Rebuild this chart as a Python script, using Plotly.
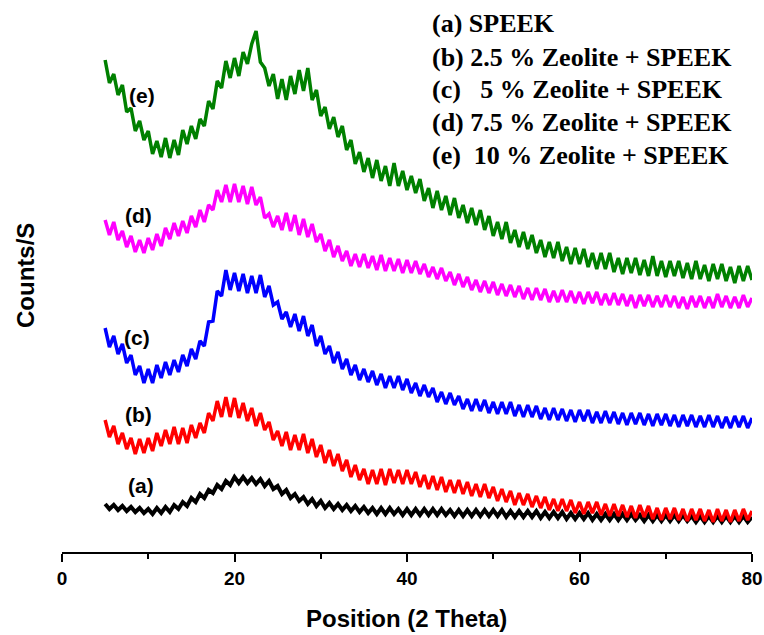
import plotly.graph_objects as go

# 2-theta scan positions (degrees), 0.5 degree steps from 5 to 80
two_theta = [5 + 0.5 * i for i in range(151)]

# Counts/S (arbitrary offset units, stacked patterns)
counts_a = [48, 43, 47, 42, 46, 41, 45, 40, 44, 39, 43, 38, 44, 39, 45, 40, 47, 43, 50, 46,
            54, 50, 58, 54, 62, 59, 67, 63, 71, 67, 75, 69, 75, 69, 74, 68, 73, 66, 71, 63,
            66, 58, 62, 54, 58, 51, 55, 48, 53, 46, 51, 44, 49, 43, 48, 42, 47, 41, 46, 40,
            45, 39, 44, 38, 44, 38, 44, 38, 43, 37, 43, 37, 43, 37, 43, 37, 43, 37, 43, 37,
            42, 36, 42, 36, 42, 36, 42, 36, 42, 36, 42, 36, 42, 35, 41, 35, 41, 35, 41, 35,
            41, 34, 40, 34, 40, 34, 40, 33, 39, 33, 39, 33, 39, 32, 38, 32, 38, 32, 38, 32,
            38, 32, 38, 32, 37, 31, 37, 31, 37, 31, 37, 31, 37, 31, 37, 31, 36, 30, 36, 30,
            36, 30, 36, 30, 36, 30, 36, 30, 36, 30, 35]

counts_b = [132, 115, 126, 108, 119, 103, 114, 98, 113, 99, 114, 101, 119, 106, 122, 108, 125, 108, 124, 109,
            127, 114, 129, 119, 139, 131, 151, 135, 155, 135, 154, 134, 149, 131, 144, 126, 139, 122, 130, 112,
            121, 106, 120, 102, 117, 102, 118, 99, 113, 95, 107, 89, 102, 86, 98, 81, 92, 75, 87, 72,
            83, 68, 82, 68, 83, 67, 83, 69, 82, 68, 82, 68, 80, 65, 77, 63, 76, 62, 75, 60,
            72, 59, 72, 58, 70, 56, 68, 55, 68, 54, 65, 51, 63, 50, 61, 47, 59, 47, 58, 45,
            56, 44, 55, 42, 53, 41, 53, 41, 52, 39, 50, 38, 50, 39, 50, 37, 48, 36, 48, 36,
            47, 35, 46, 34, 47, 35, 46, 33, 44, 32, 44, 33, 44, 32, 43, 31, 43, 32, 43, 31,
            42, 30, 43, 31, 42, 30, 42, 31, 43, 32, 41]

counts_c = [224, 205, 216, 198, 208, 189, 197, 177, 186, 169, 183, 169, 187, 174, 190, 177, 192, 180, 197, 186,
            203, 193, 211, 206, 230, 231, 261, 256, 282, 262, 279, 261, 278, 259, 276, 259, 277, 255, 266, 247,
            250, 233, 240, 225, 238, 221, 236, 216, 227, 206, 216, 198, 206, 189, 200, 183, 193, 177, 187, 172,
            183, 170, 181, 167, 178, 164, 176, 164, 176, 162, 173, 159, 169, 156, 167, 155, 164, 150, 160, 148,
            159, 147, 156, 143, 153, 141, 153, 141, 152, 139, 150, 138, 150, 138, 150, 136, 147, 135, 147, 135,
            146, 133, 144, 132, 144, 132, 143, 131, 142, 130, 142, 131, 142, 129, 140, 129, 141, 129, 140, 128,
            139, 127, 139, 128, 139, 127, 138, 126, 138, 127, 138, 126, 137, 125, 137, 126, 137, 125, 136, 125,
            137, 125, 136, 124, 135, 124, 136, 125, 136, 124, 134]

counts_d = [332, 317, 330, 312, 321, 305, 316, 300, 312, 299, 314, 302, 318, 306, 324, 313, 329, 316, 331, 319,
            336, 325, 342, 330, 347, 342, 362, 350, 367, 350, 368, 350, 366, 348, 365, 347, 355, 334, 338, 325,
            336, 322, 339, 321, 337, 317, 333, 315, 328, 310, 318, 301, 312, 295, 306, 291, 301, 286, 298, 285,
            298, 284, 296, 282, 297, 281, 294, 281, 293, 279, 292, 279, 291, 278, 288, 275, 285, 273, 284, 271,
            280, 267, 278, 265, 275, 262, 272, 260, 271, 259, 270, 257, 268, 256, 267, 255, 266, 253, 264, 252,
            264, 252, 263, 250, 261, 250, 262, 250, 261, 249, 260, 248, 260, 249, 260, 247, 258, 247, 259, 247,
            258, 246, 257, 244, 257, 246, 257, 245, 256, 245, 257, 245, 256, 244, 255, 243, 256, 245, 256, 244,
            255, 244, 258, 245, 256, 244, 255, 244, 257, 245, 254]

counts_e = [492, 469, 478, 457, 467, 440, 444, 421, 431, 412, 421, 398, 411, 395, 414, 394, 412, 397, 422, 408,
            426, 413, 433, 426, 451, 443, 471, 464, 491, 474, 494, 476, 500, 488, 508, 521, 490, 484, 466, 478,
            453, 473, 452, 476, 458, 482, 461, 484, 452, 462, 436, 445, 423, 435, 415, 426, 402, 412, 388, 400,
            380, 394, 374, 392, 371, 386, 366, 389, 366, 381, 362, 376, 359, 373, 351, 364, 344, 361, 342, 356,
            337, 354, 334, 347, 329, 344, 327, 342, 322, 336, 316, 330, 313, 330, 309, 322, 305, 320, 303, 317,
            299, 312, 295, 310, 294, 310, 291, 305, 288, 304, 288, 303, 285, 299, 283, 299, 283, 299, 280, 294,
            278, 294, 279, 294, 277, 292, 276, 296, 276, 291, 275, 291, 276, 291, 274, 289, 273, 291, 273, 287,
            271, 288, 273, 288, 271, 285, 269, 286, 271, 286, 272]

series_names = ["(a) SPEEK", "(b) 2.5 % Zeolite + SPEEK", "(c)   5 % Zeolite + SPEEK",
                "(d) 7.5 % Zeolite + SPEEK", "(e)  10 % Zeolite + SPEEK"]
curve_tags = ["(a)", "(b)", "(c)", "(d)", "(e)"]
tag_x = [9.2, 8.9, 8.7, 8.9, 9.3]
tag_y = [67, 138, 215, 337, 457]
colors = ["#000000", "#FF0000", "#0000FF", "#FF00FF", "#008000"]
widths = [4, 3.5, 3.5, 3.5, 3.5]
x_ticks = [0, 20, 40, 60, 80]

fig = go.Figure()
for ys, name, col, w in zip([counts_a, counts_b, counts_c, counts_d, counts_e],
                            series_names, colors, widths):
    fig.add_trace(go.Scatter(x=two_theta, y=ys, mode="lines", name=name,
                             line=dict(color=col, width=w), showlegend=False))

annotations = []
for t, xv, yv in zip(curve_tags, tag_x, tag_y):
    annotations.append(dict(x=xv, y=yv, xref="x", yref="y", text=t, showarrow=False,
                            font=dict(family="Liberation Sans, Arial", size=21, color="black", weight="bold")))

legend_y = [0.9583, 0.8967, 0.8370, 0.7772, 0.7192]
for name, ly in zip(series_names, legend_y):
    annotations.append(dict(x=0.5333, y=ly, xref="paper", yref="paper", xanchor="left", yanchor="middle",
                            text=name.replace(" ", "\u00a0"), showarrow=False,
                            font=dict(family="Liberation Serif, Times New Roman", size=26, color="black", weight="bold")))

annotations.append(dict(x=0.4986, y=-0.1196, xref="paper", yref="paper", xanchor="center", yanchor="middle",
                        text="Position (2 Theta)", showarrow=False,
                        font=dict(family="Liberation Sans, Arial", size=24, color="black", weight="bold")))
annotations.append(dict(x=-0.0536, y=0.50, xref="paper", yref="paper", xanchor="center", yanchor="middle",
                        text="Counts/S", showarrow=False, textangle=-90,
                        font=dict(family="Liberation Sans, Arial", size=24, color="black", weight="bold")))

fig.update_layout(
    width=764, height=635,
    margin=dict(l=62, r=12, t=0, b=83),
    plot_bgcolor="white", paper_bgcolor="white",
    annotations=annotations,
    xaxis=dict(range=[0, 80], tickvals=x_ticks, ticks="outside", ticklen=8, tickwidth=2,
               tickcolor="black", showline=True, linecolor="black", linewidth=2,
               showgrid=False, zeroline=False,
               minor=dict(tickvals=[10, 30, 50, 70], ticks="outside", ticklen=5, tickwidth=2, tickcolor="black"),
               tickfont=dict(family="Liberation Sans, Arial", size=19, color="black", weight="bold")),
    yaxis=dict(range=[0, 552], visible=True, showline=False, showticklabels=False, ticks="",
               showgrid=False, zeroline=False),
)

fig.write_html("out.html", config={"displayModeBar": False},
               post_script="document.body.style.margin='0px';document.body.style.overflow='hidden';")
